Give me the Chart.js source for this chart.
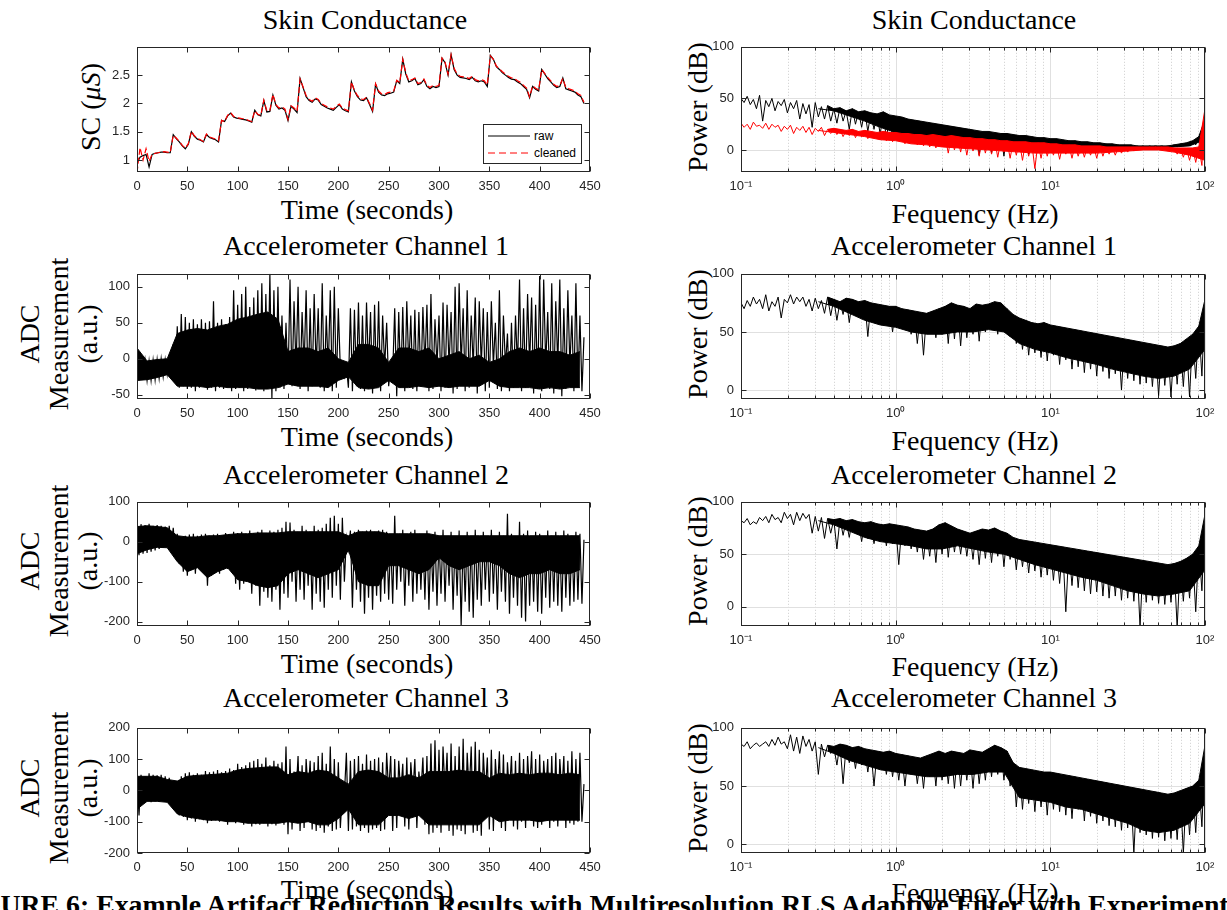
<!DOCTYPE html>
<html>
<head>
<meta charset="utf-8">
<title>Artifact reduction results</title>
<script src="https://cdn.jsdelivr.net/npm/chart.js@4.4.1/dist/chart.umd.min.js"></script>
<style>
html, body { margin: 0; padding: 0; background: #fff; }
#page { position: relative; width: 1227px; height: 910px; overflow: hidden; background: #fff; }
#page canvas { position: absolute; }
.txt { position: absolute; font-family: 'Liberation Serif', 'Times New Roman', serif; font-size: 28px; color: #000;
       white-space: nowrap; line-height: 1; transform: translate(-50%, -50%); }
.rot { transform: translate(-50%, -50%) rotate(-90deg); text-align: center; }
.ylab3 { line-height: 29px; }
#legend { position: absolute; left: 483px; top: 124px; width: 97px; height: 38px; border: 1px solid #262626;
          background: #fff; font: 12px 'Liberation Sans', Arial, sans-serif; color: #000; z-index: 2; }
#legend .row { position: absolute; left: 4px; height: 14px; display: flex; align-items: center; }
#legend svg { margin-right: 4px; }
#caption { position: absolute; left: -49px; top: 891px; font: bold 27.8px 'Liberation Serif', serif; line-height: 1; white-space: nowrap; }
</style>
</head>
<body>
<div id="page">
  <div class="txt" style="left:365px; top:20px">Skin Conductance</div>
  <div class="txt" style="left:974px; top:20px">Skin Conductance</div>
  <div class="txt" style="left:366px; top:246px">Accelerometer Channel 1</div>
  <div class="txt" style="left:974px; top:246px">Accelerometer Channel 1</div>
  <div class="txt" style="left:366px; top:475px">Accelerometer Channel 2</div>
  <div class="txt" style="left:974px; top:475px">Accelerometer Channel 2</div>
  <div class="txt" style="left:366px; top:698px">Accelerometer Channel 3</div>
  <div class="txt" style="left:974px; top:698px">Accelerometer Channel 3</div>

  <div class="txt" style="left:367px; top:210px">Time (seconds)</div>
  <div class="txt" style="left:367px; top:437px">Time (seconds)</div>
  <div class="txt" style="left:367px; top:664px">Time (seconds)</div>
  <div class="txt" style="left:367px; top:890px">Time (seconds)</div>
  <div class="txt" style="left:975px; top:214px">Fequency (Hz)</div>
  <div class="txt" style="left:975px; top:441px">Fequency (Hz)</div>
  <div class="txt" style="left:975px; top:667px">Fequency (Hz)</div>
  <div class="txt" style="left:975px; top:893px">Fequency (Hz)</div>

  <div class="txt rot" style="left:91px; top:107px">SC (<i>μS</i>)</div>
  <div class="txt rot ylab3" style="left:58px; top:334px">ADC<br>Measurement<br>(a.u.)</div>
  <div class="txt rot ylab3" style="left:58px; top:561px">ADC<br>Measurement<br>(a.u.)</div>
  <div class="txt rot ylab3" style="left:58px; top:788px">ADC<br>Measurement<br>(a.u.)</div>
  <div class="txt rot" style="left:698px; top:107px">Power (dB)</div>
  <div class="txt rot" style="left:698px; top:334px">Power (dB)</div>
  <div class="txt rot" style="left:698px; top:561px">Power (dB)</div>
  <div class="txt rot" style="left:698px; top:788px">Power (dB)</div>

  <div id="legend">
    <div class="row" style="top:4px"><svg width="42" height="4"><line x1="0" y1="2" x2="42" y2="2" stroke="#000" stroke-width="1"/></svg>raw</div>
    <div class="row" style="top:21px"><svg width="42" height="4"><line x1="0" y1="2" x2="42" y2="2" stroke="#ff0000" stroke-width="1" stroke-dasharray="7,4"/></svg>cleaned</div>
  </div>

  <div id="caption">FIGURE 6: Example Artifact Reduction Results with Multiresolution RLS Adaptive Filter with Experimental Data</div>
</div>

<script>
// sampling grids
const SC_T_STEP = 3;            // seconds between skin conductance samples
const ACC_T_STEP = 2;           // seconds between accelerometer samples
const ACC_CORE_STEP = 10;       // seconds between readings of the solid core of each trace
const PSD_F0 = 0.1;             // first spectrum bin (Hz)
const PSD_PER_DECADE = 50;      // spectrum bins per decade
const PSD_CORE_PER_DECADE = 10; // core floor readings per decade
const PSD_BAND_FROM = 28;       // bins above this are dense enough to shade solid

const TIME_TICKS = [0, 50, 100, 150, 200, 250, 300, 350, 400, 450];
const FREQ_TICKS = [0.1, 1, 10, 100];
const FREQ_LABELS = ['10\u207B\u00B9', '10\u2070', '10\u00B9', '10\u00B2'];
const SC_TICKS = [1, 1.5, 2, 2.5];
const ACC1_TICKS = [-50, 0, 50, 100];
const ACC2_TICKS = [-200, -100, 0, 100];
const ACC3_TICKS = [-200, -100, 0, 100, 200];
const PSD_TICKS = [0, 50, 100];

// skin conductance (uS)
const scRaw = [
  0.95,1.05,1.08,1.10,0.88,1.10,1.12,1.13,1.14,1.14,
  1.13,1.13,1.45,1.38,1.32,1.25,1.20,1.28,1.50,1.42,
  1.37,1.35,1.32,1.45,1.40,1.38,1.36,1.32,1.70,1.68,
  1.78,1.83,1.76,1.74,1.73,1.72,1.71,1.69,1.67,1.88,
  1.80,1.78,2.05,1.85,1.86,2.15,1.97,1.90,1.92,1.88,
  1.70,1.95,1.90,1.84,2.44,2.28,2.12,2.05,2.02,2.08,
  2.06,1.98,1.95,1.92,1.90,1.88,1.93,1.98,1.90,1.87,
  1.85,2.38,2.22,2.12,2.06,2.05,2.10,1.98,1.86,2.34,
  2.20,2.15,2.14,2.17,2.18,2.20,2.40,2.35,2.78,2.52,
  2.38,2.40,2.44,2.33,2.35,2.42,2.30,2.26,2.30,2.28,
  2.30,2.80,2.72,2.50,2.86,2.60,2.50,2.46,2.45,2.44,
  2.42,2.46,2.40,2.38,2.40,2.38,2.30,2.85,2.78,2.65,
  2.60,2.54,2.50,2.46,2.43,2.42,2.38,2.35,2.30,2.25,
  2.10,2.30,2.25,2.22,2.60,2.52,2.44,2.38,2.32,2.28,
  2.30,2.45,2.26,2.24,2.22,2.20,2.15,2.12,2.00
];
const scClean = [
  0.78,1.22,1.00,1.20,0.98,1.10,1.12,1.13,1.14,1.15,
  1.14,1.13,1.44,1.39,1.33,1.26,1.21,1.29,1.51,1.43,
  1.38,1.36,1.33,1.46,1.41,1.39,1.37,1.34,1.70,1.68,
  1.79,1.84,1.77,1.75,1.74,1.73,1.72,1.70,1.68,1.87,
  1.81,1.79,2.06,1.87,1.88,2.16,1.98,1.92,1.94,1.90,
  1.72,1.96,1.92,1.86,2.43,2.29,2.14,2.07,2.04,2.10,
  2.07,2.00,1.97,1.94,1.92,1.90,1.95,1.99,1.92,1.89,
  1.87,2.38,2.23,2.14,2.08,2.07,2.11,2.00,1.88,2.35,
  2.22,2.17,2.16,2.19,2.20,2.22,2.41,2.37,2.78,2.54,
  2.40,2.42,2.45,2.35,2.37,2.43,2.32,2.28,2.32,2.30,
  2.32,2.80,2.73,2.52,2.86,2.62,2.52,2.48,2.47,2.46,
  2.44,2.48,2.42,2.40,2.42,2.40,2.33,2.84,2.78,2.66,
  2.61,2.56,2.52,2.48,2.45,2.44,2.40,2.37,2.32,2.27,
  2.12,2.31,2.27,2.24,2.60,2.53,2.46,2.40,2.34,2.30,
  2.32,2.44,2.28,2.26,2.24,2.22,2.17,2.14,2.02
];

// accelerometer channels (ADC counts), alternating crest / trough readings
const acc1 = [
  24,-30,5,-28,-2,-30,-3,-30,-2,-29,
  -1,-27,0,-25,-1,-22,-2,-20,20,-30,
  45,-40,62,-38,58,-42,50,-40,55,-45,
  48,-40,55,-38,50,-43,52,-40,80,-45,
  50,-40,55,-42,48,-40,58,-45,95,-42,
  75,-40,90,-45,100,-42,72,-40,85,-44,
  95,-42,105,-45,90,-40,118,-55,95,-45,
  100,-40,60,-42,50,-35,110,-38,80,-15,
  100,-42,65,-12,95,-45,70,-38,90,-15,
  70,-40,105,-45,60,-15,95,-45,100,-40,
  70,-15,-12,-25,-10,-40,70,-45,68,-38,
  78,-42,60,-45,78,-15,65,-48,75,-40,
  80,-45,60,-12,50,-38,-10,-20,70,-52,
  65,-40,72,-45,80,-12,60,-42,68,-45,
  65,-38,72,-10,75,-45,90,-42,55,-10,
  60,-45,78,-40,75,-10,65,-48,100,-42,
  105,-10,70,-45,95,-40,60,-12,85,-48,
  80,-10,70,-45,65,-40,80,-10,50,-42,
  95,-45,60,-10,35,-45,50,-40,60,-12,
  110,-45,70,-40,90,-10,85,-48,75,-42,
  115,-45,110,-10,65,-42,105,-48,80,-10,
  110,-52,70,-42,95,-10,60,-45,105,-40,
  60,-45,30
];
const acc2 = [
  38,-34,44,-30,42,-28,45,-25,40,-22,
  42,-18,40,-15,38,-13,40,-12,35,-30,
  20,-55,12,-75,15,-85,18,-70,20,-80,
  15,-65,18,-72,20,-110,15,-85,18,-78,
  20,-80,15,-70,22,-68,18,-65,25,-105,
  22,-120,25,-105,20,-95,28,-130,22,-110,
  25,-160,30,-125,22,-140,28,-150,25,-120,
  30,-170,35,-130,50,-140,48,-100,30,-150,
  25,-120,40,-145,30,-110,25,-170,40,-130,
  30,-150,35,-165,45,-120,60,-140,65,-110,
  45,-145,60,-100,10,-20,28,-165,25,-120,
  30,-150,25,-180,28,-140,30,-170,25,-135,
  28,-150,30,-130,25,-145,10,-155,65,-120,
  20,-100,30,-160,10,-110,25,-150,30,-130,
  20,-120,10,-145,28,-170,10,-125,25,-160,
  10,-130,30,-150,10,-110,25,-170,10,-135,
  28,-210,10,-150,25,-175,10,-190,30,-145,
  10,-160,25,-120,10,-150,30,-130,10,-170,
  25,-125,15,-150,70,-180,20,-140,10,-160,
  50,-190,20,-200,28,-160,10,-150,25,-175,
  20,-180,10,-140,28,-165,15,-150,25,-160,
  10,-175,28,-140,20,-160,15,-150,25,-145,
  20,-155,5
];
const acc3 = [
  40,-80,50,-40,45,-35,55,-38,50,-35,
  48,-36,50,-35,45,-34,40,-36,30,-50,
  28,-80,45,-85,55,-95,58,-90,50,-100,
  55,-92,50,-95,62,-105,58,-98,60,-95,
  65,-100,58,-95,62,-110,70,-98,65,-105,
  85,-100,75,-110,80,-105,90,-115,95,-108,
  100,-110,85,-105,105,-115,80,-108,95,-112,
  85,-105,90,-110,140,-140,100,-125,60,-10,
  110,-130,80,-120,100,-10,95,-125,90,-130,
  110,-120,120,-135,85,-115,140,-130,100,-125,
  90,-120,-5,-15,120,-130,95,-125,100,-115,
  110,-130,85,-120,115,-135,95,-125,100,-120,
  105,-130,90,-125,120,-10,110,-130,100,-120,
  95,-10,85,-115,105,-125,90,-10,100,-120,
  60,-10,105,-110,110,-140,150,-135,160,-120,
  130,-135,140,-10,120,-130,150,-145,110,-125,
  140,-130,165,-140,120,-10,140,-135,155,-130,
  130,-145,120,-10,105,-125,130,-130,100,-10,
  125,-120,115,-130,90,-10,110,-115,95,-125,
  120,-100,100,-120,110,-10,125,-115,100,-120,
  115,-110,95,-10,100,-120,110,-100,120,-115,
  100,-10,110,-120,95,-105,125,-110,100,-100,
  120,-100,20
];

// solid core of each accelerometer trace (top / bottom), every 10 s
const acc1CoreHi = [
  15,-3,-1,0,35,40,42,40,45,48,
  55,58,62,65,55,10,15,15,10,15,
  0,-5,20,20,15,-5,15,15,10,15,
  0,5,10,0,5,-5,0,10,15,10,
  15,10,10,5,10
];
const acc1CoreLo = [
  -30,-29,-26,-22,-38,-38,-38,-40,-38,-40,
  -40,-40,-42,-42,-40,-35,-38,-38,-38,-40,
  -30,-25,-40,-42,-40,-30,-40,-40,-38,-40,
  -38,-40,-38,-38,-38,-30,-38,-40,-40,-40,
  -42,-40,-42,-40,-40
];
const acc2CoreHi = [
  38,40,38,35,15,12,12,15,15,18,
  20,20,22,22,22,25,25,25,25,25,
  25,15,25,25,25,20,20,20,20,20,
  15,15,15,15,15,15,15,15,15,15,
  15,15,15,15,15
];
const acc2CoreLo = [
  -30,-20,-14,-15,-50,-75,-65,-90,-75,-65,
  -95,-100,-110,-115,-110,-80,-70,-80,-90,-80,
  -70,-20,-100,-110,-110,-60,-60,-70,-80,-70,
  -40,-60,-70,-60,-50,-50,-60,-80,-90,-80,
  -80,-70,-80,-80,-70
];
const acc3CoreHi = [
  45,45,45,35,30,45,48,50,52,55,
  65,70,72,75,75,50,60,55,65,60,
  40,20,60,65,60,40,40,50,40,60,
  60,60,65,60,60,40,55,50,55,50,
  55,55,50,55,50
];
const acc3CoreLo = [
  -60,-35,-35,-38,-75,-85,-90,-95,-95,-100,
  -100,-105,-105,-105,-105,-100,-105,-100,-110,-110,
  -90,-60,-110,-110,-110,-80,-80,-90,-80,-110,
  -110,-110,-110,-110,-110,-80,-100,-95,-95,-95,
  -100,-95,-95,-95,-95
];

// power spectra (dB), alternating crest / trough readings
const psdScRaw = [
  50,46,52,44,49,40,53,28,48,42,
  50,38,47,43,49,36,46,40,48,30,
  45,35,44,22,46,32,42,30,43,28,
  40,26,41,28,38,20,40,25,37,22,
  38,18,36,20,35,15,37,10,34,12,
  33,14,32,10,30,8,29,12,28,6,
  27,9,26,5,25,8,24,4,23,7,
  22,3,21,5,20,2,19,-5,18,0,
  18,-3,17,2,16,-6,16,1,15,0,
  14,2,14,-4,13,1,12,3,12,0,
  11,2,11,1,10,3,9,2,9,1,
  8,2,8,3,7,2,7,3,6,2,
  6,3,5,3,5,2,5,3,4,3,
  4,2,4,3,4,3,4,3,4,3,
  5,3,6,4,7,4,9,5,13,10,
  30
];
const psdScClean = [
  26,22,25,20,27,23,24,21,26,20,
  25,22,24,18,23,20,24,16,22,19,
  23,17,22,15,21,18,22,14,20,16,
  21,15,20,13,19,14,20,12,18,13,
  19,11,18,12,17,10,18,9,17,8,
  17,10,16,6,16,8,15,5,15,4,
  14,3,15,2,14,4,13,-3,14,0,
  13,-2,12,-5,12,-1,11,-6,11,-3,
  10,-4,10,-7,9,-2,9,-8,8,-5,
  8,-10,8,-6,7,-18,7,-8,7,-6,
  6,-5,6,-9,5,-4,5,-8,5,-6,
  4,-7,4,-5,4,-8,4,-6,3,-4,
  3,-5,3,-3,3,-2,3,-1,3,0,
  3,0,3,1,3,1,3,0,3,-1,
  2,-4,2,-7,2,-10,2,-12,3,-15,
  40
];
const psdAcc1 = [
  75,70,77,72,80,74,78,70,82,68,
  76,72,80,62,78,75,82,74,80,76,
  80,72,78,68,79,70,77,66,80,64,
  78,60,76,65,79,58,78,64,76,62,
  77,46,75,60,74,58,73,62,72,50,
  72,55,70,52,69,48,68,40,67,30,
  66,50,68,45,70,48,72,40,75,44,
  73,38,72,45,70,48,74,42,73,50,
  74,52,76,48,75,50,70,46,65,40,
  62,35,60,30,58,32,57,28,58,25,
  56,30,55,22,54,26,53,18,52,20,
  51,15,50,18,49,12,48,16,47,10,
  46,14,45,0,44,10,43,8,42,5,
  41,6,40,3,39,-5,38,4,37,-6,
  38,5,40,3,44,-6,48,10,55,12,
  78
];
const psdAcc2 = [
  82,80,84,78,81,79,85,82,86,80,
  88,83,85,80,90,84,88,78,90,82,
  89,84,88,70,86,72,85,65,84,70,
  83,55,84,68,82,66,83,70,81,62,
  80,65,81,60,79,62,78,58,79,60,
  78,40,77,58,76,55,74,52,73,45,
  72,48,74,42,78,50,80,47,77,52,
  74,50,72,48,70,45,72,40,74,46,
  73,42,75,48,72,38,70,45,66,35,
  64,38,63,32,62,34,61,28,60,30,
  59,25,58,22,57,-5,56,20,55,18,
  54,15,53,12,52,14,51,10,50,8,
  49,10,48,6,47,8,46,5,45,-20,
  44,4,43,6,42,3,41,2,40,4,
  41,-20,43,5,46,8,50,-5,58,15,
  88
];
const psdAcc3 = [
  86,84,88,82,85,87,84,86,88,84,
  90,85,92,86,88,82,94,80,92,78,
  93,84,90,80,88,60,86,75,85,78,
  84,68,86,52,85,70,83,65,84,68,
  82,62,81,50,80,65,79,60,80,58,
  78,55,77,50,76,60,75,52,74,48,
  76,58,78,50,80,55,78,52,80,48,
  79,50,78,55,81,48,80,52,79,55,
  82,58,85,60,83,55,80,50,70,32,
  66,30,65,35,64,28,63,32,62,25,
  62,30,61,28,60,25,59,22,58,30,
  57,20,56,24,55,18,54,20,53,16,
  52,15,51,12,50,14,49,-8,48,10,
  47,8,46,5,45,6,44,3,43,5,
  44,4,46,-8,48,8,50,10,55,15,
  85
];

// floor of the solid part of each spectrum (dB), 10 readings per decade
const psdScRawCore = [45,44,42,40,38,40,38,33,28,22,17,12,10,8,6,5,4,3,3,2,2,2,2,2,2,2,2,2,3,4,10];
const psdScCleanCore = [21,21,20,19,18,19,17,15,13,10,9,6,5,3,2,1,0,-1,-2,-3,-3,-3,-3,-3,-2,-1,0,0,-2,-5,-10];
const psdAcc1Core = [70,70,70,70,68,76,72,66,60,56,54,50,48,48,50,50,52,50,40,35,32,28,25,22,18,15,12,10,12,18,35];
const psdAcc2Core = [78,78,80,80,78,82,78,72,66,62,60,58,55,55,58,55,52,50,45,40,36,32,28,25,20,15,12,10,12,15,35];
const psdAcc3Core = [82,82,84,82,80,83,78,72,68,64,62,60,58,58,60,60,62,62,40,38,36,32,30,26,22,18,12,10,12,18,35];

const page = document.getElementById('page');
Chart.defaults.font.family = "'Liberation Sans', Arial, sans-serif";
Chart.defaults.font.size = 13;
Chart.defaults.color = '#262626';

function timeSeries(values, step) {
  return values.map((v, i) => ({ x: i * step, y: v }));
}
function logSeries(values, perDecade) {
  return values.map((v, i) => ({ x: PSD_F0 * Math.pow(10, i / perDecade), y: v }));
}
function minorLogPositions(min, max) {
  const out = [];
  for (let d = min; d < max; d *= 10) {
    for (let k = 2; k <= 9; k++) out.push(d * k);
  }
  return out;
}

// box, inward ticks and (for spectra) the log grid
const matlabAxes = {
  id: 'matlabAxes',
  beforeDatasetsDraw(chart, args, opts) {
    if (!opts.grid) return;
    const { ctx, chartArea: a, scales: { x, y } } = chart;
    ctx.save();
    ctx.lineWidth = 1;
    ctx.strokeStyle = '#cdcdcd';
    ctx.setLineDash([1, 2]);
    for (const v of opts.minor) {
      const px = Math.round(x.getPixelForValue(v)) + 0.5;
      ctx.beginPath(); ctx.moveTo(px, a.top); ctx.lineTo(px, a.bottom); ctx.stroke();
    }
    ctx.setLineDash([]);
    ctx.strokeStyle = '#e0e0e0';
    for (const t of x.ticks) {
      const px = Math.round(x.getPixelForValue(t.value)) + 0.5;
      ctx.beginPath(); ctx.moveTo(px, a.top); ctx.lineTo(px, a.bottom); ctx.stroke();
    }
    for (const t of y.ticks) {
      const py = Math.round(y.getPixelForValue(t.value)) + 0.5;
      ctx.beginPath(); ctx.moveTo(a.left, py); ctx.lineTo(a.right, py); ctx.stroke();
    }
    ctx.restore();
  },
  afterDatasetsDraw(chart, args, opts) {
    const { ctx, chartArea: a, scales: { x, y } } = chart;
    ctx.save();
    ctx.lineWidth = 1;
    ctx.strokeStyle = '#262626';
    const L = Math.round(a.left) + 0.5, R = Math.round(a.right) - 0.5;
    const T = Math.round(a.top) + 0.5, B = Math.round(a.bottom) - 0.5;
    ctx.strokeRect(L, T, R - L, B - T);
    ctx.beginPath();
    const xt = (v, len) => {
      const px = Math.round(x.getPixelForValue(v)) + 0.5;
      ctx.moveTo(px, B); ctx.lineTo(px, B - len);
      ctx.moveTo(px, T); ctx.lineTo(px, T + len);
    };
    x.ticks.forEach(t => xt(t.value, 5));
    (opts.minor || []).forEach(v => xt(v, 3));
    y.ticks.forEach(t => {
      const py = Math.round(y.getPixelForValue(t.value)) + 0.5;
      ctx.moveTo(L, py); ctx.lineTo(L + 5, py);
      ctx.moveTo(R, py); ctx.lineTo(R - 5, py);
    });
    ctx.stroke();
    ctx.restore();
  }
};

function line(data, color, width, dash) {
  return {
    data, borderColor: color, borderWidth: width, borderDash: dash || [],
    pointRadius: 0, tension: 0, fill: false
  };
}
// two outlines with the space between them shaded
function band(top, bottom, color) {
  return [
    { data: top, borderColor: color, borderWidth: 1, backgroundColor: color, fill: '+1', pointRadius: 0, tension: 0 },
    line(bottom, color, 1)
  ];
}

function accTrace(values, coreHi, coreLo) {
  return [
    line(timeSeries(values, ACC_T_STEP), '#000000', 1.2),
    ...band(timeSeries(coreHi, ACC_CORE_STEP), timeSeries(coreLo, ACC_CORE_STEP), '#000000')
  ];
}
function spectrumTrace(values, core, color) {
  const pts = logSeries(values, PSD_PER_DECADE);
  const crest = pts.filter((p, i) => i >= PSD_BAND_FROM && i % 2 === 0);
  const floor = logSeries(core, PSD_CORE_PER_DECADE).filter(p => p.x >= crest[0].x / 1.3);
  return [line(pts, color, 1), ...band(crest, floor, color)];
}

function panel(box, xAxis, yAxis, datasets) {
  const cv = document.createElement('canvas');
  const W = box.w + 90, H = box.h + 40;
  cv.width = W; cv.height = H;
  cv.style.left = (box.x - 70) + 'px';
  cv.style.top = (box.y - 10) + 'px';
  cv.style.width = W + 'px';
  cv.style.height = H + 'px';
  page.appendChild(cv);

  const isLog = xAxis.type === 'logarithmic';
  new Chart(cv, {
    type: 'line',
    data: { datasets },
    options: {
      responsive: false,
      animation: false,
      events: [],
      layout: { padding: { top: 10, right: 20, left: 0, bottom: 0 } },
      plugins: {
        legend: { display: false },
        tooltip: { enabled: false },
        matlabAxes: { grid: isLog, minor: isLog ? minorLogPositions(xAxis.min, xAxis.max) : [] }
      },
      scales: {
        x: {
          type: xAxis.type, min: xAxis.min, max: xAxis.max,
          grid: { display: false, drawTicks: false }, border: { display: false },
          ticks: {
            padding: 7, maxRotation: 0, autoSkip: false,
            callback: isLog ? (v => FREQ_LABELS[FREQ_TICKS.indexOf(v)] || '') : (v => String(v))
          },
          afterBuildTicks: s => { s.ticks = xAxis.ticks.map(v => ({ value: v })); },
          afterFit: s => { s.height = 30; }
        },
        y: {
          type: 'linear', min: yAxis.min, max: yAxis.max,
          grid: { display: false, drawTicks: false }, border: { display: false },
          ticks: { padding: 7, callback: v => String(v) },
          afterBuildTicks: s => { s.ticks = yAxis.ticks.map(v => ({ value: v })); },
          afterFit: s => { s.width = 70; }
        }
      }
    },
    plugins: [matlabAxes]
  });
}

const timeAxis = { type: 'linear', min: 0, max: 450, ticks: TIME_TICKS };
const freqAxis = { type: 'logarithmic', min: 0.1, max: 100, ticks: FREQ_TICKS };
const LX = 137, LW = 453, RX = 741, RW = 464;

panel({ x: LX, y: 42, w: LW, h: 130 }, timeAxis, { min: 0.79, max: 3.0, ticks: SC_TICKS }, [
  line(timeSeries(scClean, SC_T_STEP), '#ff0000', 1.2, [6, 3]),
  line(timeSeries(scRaw, SC_T_STEP), '#000000', 1.2)
]);
panel({ x: RX, y: 42, w: RW, h: 130 }, freqAxis, { min: -21.3, max: 100, ticks: PSD_TICKS }, [
  ...spectrumTrace(psdScClean, psdScCleanCore, '#ff0000'),
  ...spectrumTrace(psdScRaw, psdScRawCore, '#000000')
]);
panel({ x: LX, y: 269, w: LW, h: 130 }, timeAxis, { min: -55.8, max: 118, ticks: ACC1_TICKS },
  accTrace(acc1, acc1CoreHi, acc1CoreLo));
panel({ x: RX, y: 269, w: RW, h: 130 }, freqAxis, { min: -7.7, max: 100, ticks: PSD_TICKS },
  spectrumTrace(psdAcc1, psdAcc1Core, '#000000'));
panel({ x: LX, y: 497, w: LW, h: 129 }, timeAxis, { min: -211, max: 100, ticks: ACC2_TICKS },
  accTrace(acc2, acc2CoreHi, acc2CoreLo));
panel({ x: RX, y: 497, w: RW, h: 129 }, freqAxis, { min: -18.6, max: 100, ticks: PSD_TICKS },
  spectrumTrace(psdAcc2, psdAcc2Core, '#000000'));
panel({ x: LX, y: 723, w: LW, h: 130 }, timeAxis, { min: -200, max: 200, ticks: ACC3_TICKS },
  accTrace(acc3, acc3CoreHi, acc3CoreLo));
panel({ x: RX, y: 723, w: RW, h: 130 }, freqAxis, { min: -7.5, max: 100, ticks: PSD_TICKS },
  spectrumTrace(psdAcc3, psdAcc3Core, '#000000'));
</script>
</body>
</html>
